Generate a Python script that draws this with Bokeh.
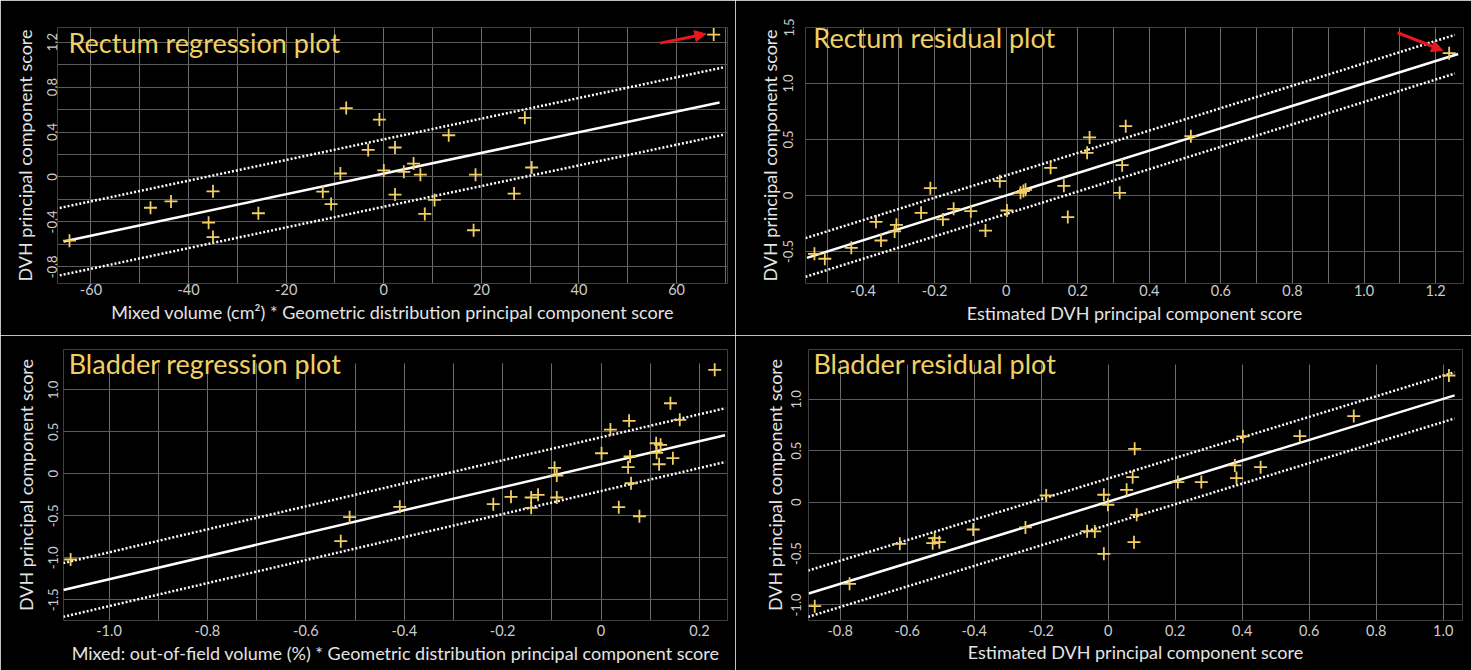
import numpy as np
from bokeh.plotting import figure
from bokeh.models import FixedTicker, CustomJSTickFormatter, Label, Arrow, NormalHead
from bokeh.layouts import column, row
from bokeh.embed import file_html
from bokeh.resources import INLINE

# ---------------- data ----------------
# Rectum regression plot
rect_reg_x = [-64.4, -47.8, -43.6, -35.0, -35.9, -35.0, -25.7, -12.5, -10.8, -8.9, -7.7, -3.2, -0.9, 0.0,
              2.3, 2.3, 4.1, 6.1, 7.5, 8.4, 10.4, 13.3, 18.4, 18.8, 26.7, 28.9, 30.3, 67.6]
rect_reg_y = [-0.567, -0.274, -0.218, -0.128, -0.407, -0.535, -0.323, -0.131, -0.241, 0.031, 0.613, 0.241,
              0.511, 0.058, 0.262, -0.157, 0.046, 0.119, 0.020, -0.329, -0.204, 0.371, -0.474, 0.020,
              -0.148, 0.526, 0.084, 1.267]
rect_reg_fit = {"intercept": 0.03, "slope": 0.0092, "upper": 0.305, "lower": -0.295}
rect_reg_fit_x = [-65.6, 68.8]
rect_reg_band_x = [-66.4, 69.5]
rect_reg_xticks = [-60, -40, -20, 0, 20, 40, 60]
rect_reg_xgrid = [-60, -50, -40, -30, -20, -10, 0, 10, 20, 30, 40, 50, 60, 70]
rect_reg_yticks = [-0.8, -0.4, 0, 0.4, 0.8, 1.2]
rect_reg_ygrid = [-0.8, -0.6, -0.4, -0.2, 0, 0.2, 0.4, 0.6, 0.8, 1.0, 1.2]
rect_reg_arrow = [56.6, 1.191, 66.0, 1.273]

# Rectum residual plot
rect_res_x = [-0.536, -0.507, -0.433, -0.364, -0.350, -0.312, -0.307, -0.238, -0.212, -0.177, -0.147,
              -0.099, -0.058, -0.018, 0.002, 0.040, 0.048, 0.054, 0.124, 0.161, 0.172, 0.226, 0.233,
              0.317, 0.324, 0.334, 0.516, 1.238]
rect_res_y = [-0.521, -0.565, -0.467, -0.235, -0.402, -0.321, -0.262, -0.155, 0.065, -0.214, -0.119,
              -0.140, -0.313, 0.128, -0.134, 0.024, 0.040, 0.051, 0.247, 0.086, -0.193, 0.381, 0.518,
              0.024, 0.271, 0.619, 0.530, 1.271]
rect_res_fit = {"intercept": 0.0, "slope": 1.0, "upper": 0.18, "lower": -0.165}
rect_res_fit_x = [-0.557, 1.263]
rect_res_band_x = [-0.561, 1.254]
rect_res_xticks = [-0.4, -0.2, 0, 0.2, 0.4, 0.6, 0.8, 1.0, 1.2]
rect_res_xgrid = [-0.5, -0.4, -0.3, -0.2, -0.1, 0, 0.1, 0.2, 0.3, 0.4, 0.5, 0.6, 0.7, 0.8, 0.9, 1.0, 1.1, 1.2]
rect_res_yticks = [-0.5, 0, 0.5, 1.0, 1.5]
rect_res_arrow = [1.094, 1.453, 1.220, 1.295]

# Bladder regression plot
blad_reg_x = [-1.078, -0.529, -0.511, -0.409, -0.219, -0.183, -0.142, -0.142, -0.128, -0.0945, -0.090,
              -0.090, 0.001, 0.019, 0.036, 0.055, 0.057, 0.059, 0.061, 0.078, 0.112, 0.113, 0.118, 0.121,
              0.141, 0.146, 0.160, 0.231]
blad_reg_y = [-1.020, -0.802, -0.516, -0.393, -0.361, -0.274, -0.282, -0.405, -0.250, 0.071, -0.020,
              -0.282, 0.245, 0.527, -0.397, 0.079, 0.631, 0.206, -0.112, -0.505, 0.364, 0.250, 0.114,
              0.345, 0.840, 0.186, 0.643, 1.238]
blad_reg_fit = {"intercept": 0.115, "slope": 1.37, "upper": 0.32, "lower": -0.32}
blad_reg_fit_x = [-1.093, 0.252]
blad_reg_band_x = [-1.093, 0.253]
blad_reg_xticks = [-1.0, -0.8, -0.6, -0.4, -0.2, 0, 0.2]
blad_reg_xgrid = [-1.0, -0.9, -0.8, -0.7, -0.6, -0.5, -0.4, -0.3, -0.2, -0.1, 0, 0.1, 0.2]
blad_reg_yticks = [-1.5, -1.0, -0.5, 0, 0.5, 1.0]

# Bladder residual plot
blad_res_x = [-0.876, -0.772, -0.622, -0.524, -0.518, -0.504, -0.403, -0.247, -0.185, -0.063, -0.040,
              -0.013, -0.013, -0.001, 0.055, 0.073, 0.077, 0.079, 0.085, 0.208, 0.278, 0.378, 0.383,
              0.402, 0.455, 0.572, 0.733, 1.017]
blad_res_y = [-1.012, -0.794, -0.405, -0.399, -0.350, -0.389, -0.266, -0.246, 0.065, -0.282, -0.285,
              0.072, -0.502, -0.025, 0.120, 0.243, -0.389, 0.519, -0.123, 0.195, 0.195, 0.357, 0.234,
              0.639, 0.340, 0.642, 0.837, 1.232]
blad_res_fit = {"intercept": 0.005, "slope": 1.0, "upper": 0.225, "lower": -0.225}
blad_res_fit_x = [-0.894, 1.034]
blad_res_band_x = [-0.896, 1.034]
blad_res_xticks = [-0.8, -0.6, -0.4, -0.2, 0, 0.2, 0.4, 0.6, 0.8, 1.0]
blad_res_yticks = [-1.0, -0.5, 0, 0.5, 1.0]

y_label = "DVH principal component score"
x_labels = [
    "Mixed volume (cm\u00b2) * Geometric distribution principal component score",
    "Estimated DVH principal component score",
    "Mixed: out-of-field volume (%) * Geometric distribution principal component score",
    "Estimated DVH principal component score",
]
titles = ["Rectum regression plot", "Rectum residual plot", "Bladder regression plot", "Bladder residual plot"]

# ---------------- style ----------------
GOLD = "#f1cf63"
GRID = "#6c6c6c"
FONT = "Lato"

fmt_int = CustomJSTickFormatter(code="return tick.toFixed(0);")
fmt_dec = CustomJSTickFormatter(code="return Math.abs(tick) < 1e-9 ? '0' : tick.toFixed(1);")


def panel(width, x_range, y_range, borders, xticks, xgrid, yticks, ygrid, xfmt, yfmt,
          xs, ys, fit, fit_x, band_x, title, title_pos, xlabel, stand, grid_top=None):
    p = figure(width=width, height=335, x_range=x_range, y_range=y_range,
               output_backend="svg", toolbar_location=None, title=None,
               min_border_left=borders[0], min_border_right=borders[1],
               min_border_top=borders[2], min_border_bottom=borders[3])
    p.background_fill_color = "black"
    p.border_fill_color = "black"
    p.outline_line_color = None

    p.xaxis.ticker = FixedTicker(ticks=xticks, minor_ticks=xgrid if xgrid else [])
    p.yaxis.ticker = FixedTicker(ticks=yticks, minor_ticks=ygrid if ygrid else [])
    p.xaxis.formatter = xfmt
    p.yaxis.formatter = yfmt
    for ax in (p.xaxis[0], p.yaxis[0]):
        ax.axis_line_color = None
        ax.major_tick_line_color = None
        ax.minor_tick_line_color = None
        ax.major_tick_out = 0
        ax.major_tick_in = 0
        ax.minor_tick_out = 0
        ax.minor_tick_in = 0
        ax.major_label_text_color = "#cdcdcd"
        ax.major_label_text_font = FONT
        ax.axis_label_text_color = "#e4e4e4"
        ax.axis_label_text_font = FONT
        ax.axis_label_text_font_style = "normal"
        ax.axis_label_text_font_size = "18px"
    p.xaxis.major_label_text_font_size = "14.5px"
    p.yaxis.major_label_text_font_size = "13px"
    p.yaxis.major_label_orientation = "vertical"
    p.xaxis.axis_label = xlabel
    p.yaxis.axis_label = y_label
    p.yaxis.major_label_standoff = stand[0]
    p.yaxis.axis_label_standoff = stand[1]
    p.xaxis.major_label_standoff = stand[2]
    p.xaxis.axis_label_standoff = stand[3]

    p.xgrid.grid_line_color = GRID
    p.ygrid.grid_line_color = "#5c5c5c"
    if xgrid:
        p.xgrid.minor_grid_line_color = GRID
    if ygrid:
        p.ygrid.minor_grid_line_color = "#5c5c5c"
    if grid_top is not None:
        g = p.xgrid[0]
        if "cross_bounds" in g.properties():
            g.cross_bounds = (y_range[0], grid_top)

    fx = np.array(fit_x)
    bx = np.array(band_x)
    p.line(fx, fit["intercept"] + fit["slope"] * fx, line_color="white", line_width=2.5)
    for off in (fit["upper"], fit["lower"]):
        p.line(bx, fit["intercept"] + fit["slope"] * bx + off, line_color="white",
               line_width=2.5, line_dash="2 2")

    p.scatter(xs, ys, marker="cross", size=13, line_color=GOLD, line_width=1.8)

    p.add_layout(Label(x=title_pos[0], y=title_pos[1], text=title, text_font=FONT,
                       text_font_size="27px", text_color=GOLD, text_baseline="alphabetic"))
    return p


p1 = panel(735, (-66.86, 70.43), (-0.948, 1.330), (57, 8, 22, 52),
           rect_reg_xticks, rect_reg_xgrid, rect_reg_yticks, rect_reg_ygrid, fmt_int, fmt_dec,
           rect_reg_x, rect_reg_y, rect_reg_fit, rect_reg_fit_x, rect_reg_band_x,
           titles[0], (-64.6, 1.197), x_labels[0], (0, 9, 0, 3))
p2 = panel(736, (-0.561, 1.278), (-0.786, 1.50), (70, 8, 27, 52),
           rect_res_xticks, rect_res_xgrid, rect_res_yticks, None, fmt_dec, fmt_dec,
           rect_res_x, rect_res_y, rect_res_fit, rect_res_fit_x, rect_res_band_x,
           titles[1], (-0.539, 1.411), x_labels[1], (12, 0, 1, 3))
p3 = panel(735, (-1.0925, 0.257), (-1.746, 1.480), (63, 8, 14, 50),
           blad_reg_xticks, blad_reg_xgrid, blad_reg_yticks, None, fmt_dec, fmt_dec,
           blad_reg_x, blad_reg_y, blad_reg_fit, blad_reg_fit_x, blad_reg_band_x,
           titles[2], (-1.082, 1.313), x_labels[2], (5, 9, 4, 3), grid_top=1.313)
p4 = panel(736, (-0.8946, 1.0576), (-1.151, 1.485), (73, 9, 14, 50),
           blad_res_xticks, None, blad_res_yticks, None, fmt_dec, fmt_dec,
           blad_res_x, blad_res_y, blad_res_fit, blad_res_fit_x, blad_res_band_x,
           titles[3], (-0.880, 1.349), x_labels[3], (7, 3, 4, 2), grid_top=1.339)

for p, a in ((p1, rect_reg_arrow), (p2, rect_res_arrow)):
    p.add_layout(Arrow(end=NormalHead(size=11, fill_color="#e8191c", line_color="#e8191c"),
                       x_start=a[0], y_start=a[1], x_end=a[2], y_end=a[3],
                       line_color="#e8191c", line_width=3))

layout = column(row(p1, p2), row(p3, p4))
open("out.html", "w").write(file_html(layout, INLINE))
